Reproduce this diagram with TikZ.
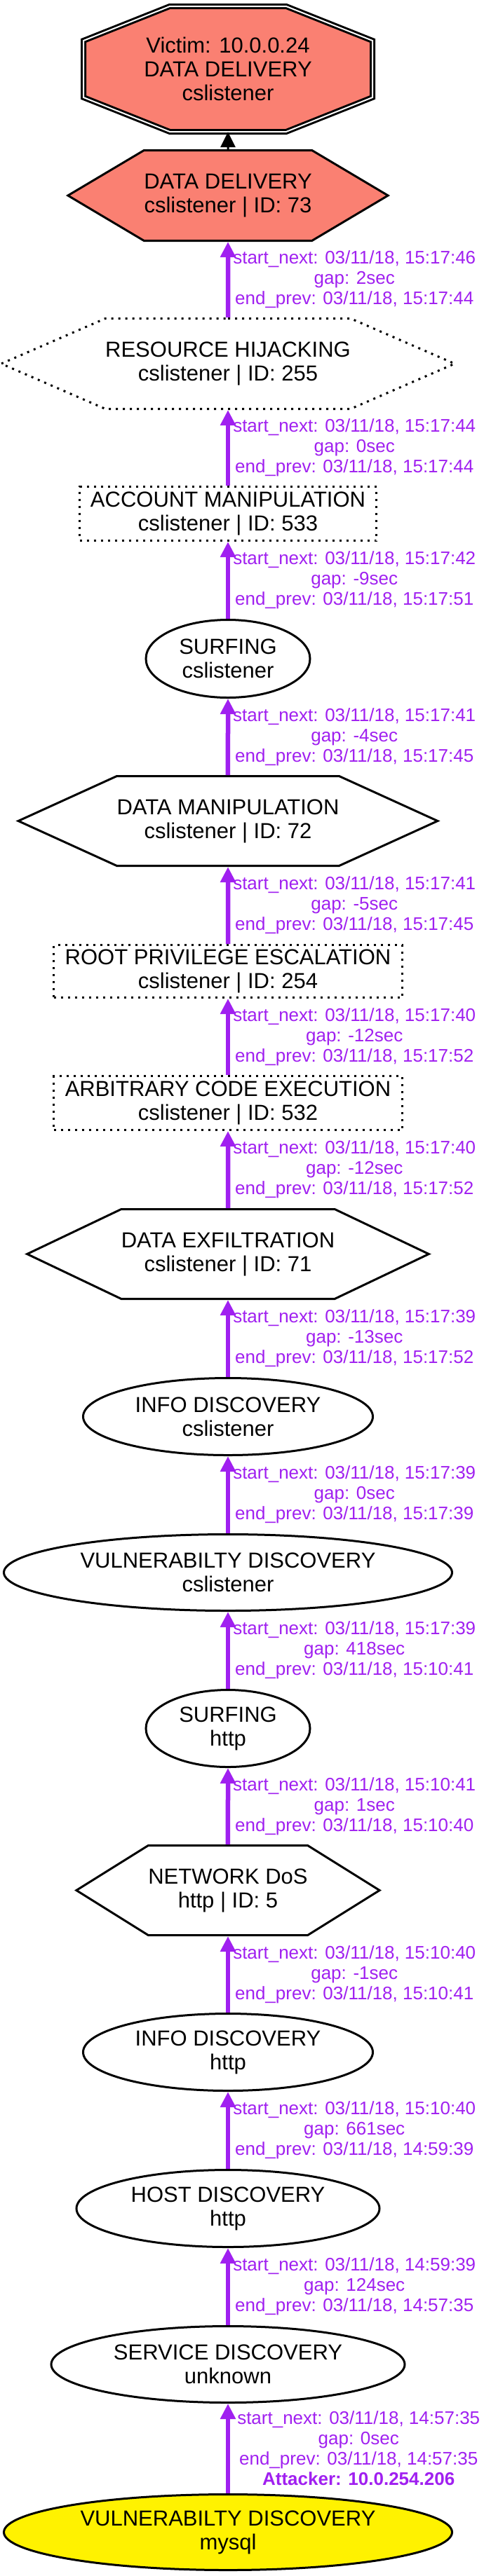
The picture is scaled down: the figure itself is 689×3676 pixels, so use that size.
\documentclass[tikz,border=0pt]{standalone}
\usepackage{fontspec}
\setmainfont{Liberation Sans}
\usepackage{tikz}
\usetikzlibrary{arrows.meta,shapes.geometric,shapes.symbols}

\definecolor{salmonred}{RGB}{250,128,114}
\definecolor{edgepurple}{RGB}{160,32,240}
\newcommand{\nodefont}{\fontsize{31pt}{34pt}\selectfont}
\newcommand{\edgefont}{\fontsize{26pt}{29pt}\selectfont}

\begin{document}
\begin{tikzpicture}[x=1pt,y=-1pt,
  every node/.style={align=center,inner sep=0pt,font=\nodefont},
  ell/.style={ellipse,draw=black,line width=3pt},
  hexa/.style={signal,signal to=west and east,draw=black,line width=3pt},
  dotbox/.style={rectangle,draw=black,line width=3pt,dash pattern=on 3pt off 7pt},
  flow/.style={draw=edgepurple,line width=6.5pt,-{Triangle[length=22pt,width=21pt]}},
  elabel/.style={font=\edgefont,text=edgepurple,anchor=west,xshift=4pt}]
\useasboundingbox (0,0) rectangle (689,3676);

% victim
\filldraw[fill=salmonred,draw=black,line width=3pt,double=white,double distance=2pt]
  (242,9) -- (408,9) -- (531,58) -- (531,139) -- (408,188) -- (242,188) -- (119,139) -- (119,58) -- cycle;
\node[minimum width=412pt,minimum height=179pt] (victim) at (325,98.5) {Victim: 10.0.0.24\\DATA DELIVERY\\cslistener};

% attack steps, top to bottom
\node[hexa,fill=salmonred,minimum width=440pt,minimum height=129pt,signal pointer angle=61.5] (dd) at (325,279) {DATA DELIVERY\\cslistener | ID: 73};
\node[hexa,dash pattern=on 3pt off 7pt,minimum width=617pt,minimum height=129pt,signal pointer angle=47] (rh) at (325,519) {RESOURCE HIJACKING\\cslistener | ID: 255};
\node[dotbox,minimum width=423pt,minimum height=77pt] (am) at (325,733) {ACCOUNT MANIPULATION\\cslistener | ID: 533};
\node[ell,minimum width=234pt,minimum height=111pt] (surfcs) at (325,940) {SURFING\\cslistener};
\node[hexa,minimum width=568pt,minimum height=128pt,signal pointer angle=49] (dm) at (325,1171.5) {DATA MANIPULATION\\cslistener | ID: 72};
\node[dotbox,minimum width=497pt,minimum height=75pt] (rpe) at (325,1386) {ROOT PRIVILEGE ESCALATION\\cslistener | ID: 254};
\node[dotbox,minimum width=497pt,minimum height=77pt] (ace) at (325,1574) {ARBITRARY CODE EXECUTION\\cslistener | ID: 532};
\node[hexa,minimum width=544pt,minimum height=128pt,signal pointer angle=51] (de) at (325,1789.5) {DATA EXFILTRATION\\cslistener | ID: 71};
\node[ell,minimum width=413pt,minimum height=110pt] (infocs) at (325,2021.5) {INFO DISCOVERY\\cslistener};
\node[ell,minimum width=639pt,minimum height=109pt] (vulncs) at (325,2244) {VULNERABILTY DISCOVERY\\cslistener};
\node[ell,minimum width=234pt,minimum height=110pt] (surfhttp) at (325,2466.5) {SURFING\\http};
\node[hexa,minimum width=415pt,minimum height=128pt,signal pointer angle=64] (dos) at (325,2697.5) {NETWORK DoS\\http | ID: 5};
\node[ell,minimum width=413pt,minimum height=110pt] (infohttp) at (325,2928.5) {INFO DISCOVERY\\http};
\node[ell,minimum width=432pt,minimum height=110pt] (host) at (325,3151.5) {HOST DISCOVERY\\http};
\node[ell,minimum width=504pt,minimum height=109pt] (serv) at (325,3374) {SERVICE DISCOVERY\\unknown};
\node[ell,fill=yellow,minimum width=639pt,minimum height=108pt] (vulnmy) at (325,3613.5) {VULNERABILTY DISCOVERY\\mysql};

% edges
\draw[draw=black,line width=3pt,-{Triangle[length=22pt,width=21pt]}] (dd) -- (victim);
\draw[flow] (rh) -- (dd) node[elabel,midway] {start\_next: 03/11/18, 15:17:46\\gap: 2sec\\end\_prev: 03/11/18, 15:17:44};
\draw[flow] (am) -- (rh) node[elabel,midway] {start\_next: 03/11/18, 15:17:44\\gap: 0sec\\end\_prev: 03/11/18, 15:17:44};
\draw[flow] (surfcs) -- (am) node[elabel,midway] {start\_next: 03/11/18, 15:17:42\\gap: -9sec\\end\_prev: 03/11/18, 15:17:51};
\draw[flow] (dm) -- (surfcs) node[elabel,midway] {start\_next: 03/11/18, 15:17:41\\gap: -4sec\\end\_prev: 03/11/18, 15:17:45};
\draw[flow] (rpe) -- (dm) node[elabel,midway] {start\_next: 03/11/18, 15:17:41\\gap: -5sec\\end\_prev: 03/11/18, 15:17:45};
\draw[flow] (ace) -- (rpe) node[elabel,midway] {start\_next: 03/11/18, 15:17:40\\gap: -12sec\\end\_prev: 03/11/18, 15:17:52};
\draw[flow] (de) -- (ace) node[elabel,midway] {start\_next: 03/11/18, 15:17:40\\gap: -12sec\\end\_prev: 03/11/18, 15:17:52};
\draw[flow] (infocs) -- (de) node[elabel,midway] {start\_next: 03/11/18, 15:17:39\\gap: -13sec\\end\_prev: 03/11/18, 15:17:52};
\draw[flow] (vulncs) -- (infocs) node[elabel,midway] {start\_next: 03/11/18, 15:17:39\\gap: 0sec\\end\_prev: 03/11/18, 15:17:39};
\draw[flow] (surfhttp) -- (vulncs) node[elabel,midway] {start\_next: 03/11/18, 15:17:39\\gap: 418sec\\end\_prev: 03/11/18, 15:10:41};
\draw[flow] (dos) -- (surfhttp) node[elabel,midway] {start\_next: 03/11/18, 15:10:41\\gap: 1sec\\end\_prev: 03/11/18, 15:10:40};
\draw[flow] (infohttp) -- (dos) node[elabel,midway] {start\_next: 03/11/18, 15:10:40\\gap: -1sec\\end\_prev: 03/11/18, 15:10:41};
\draw[flow] (host) -- (infohttp) node[elabel,midway] {start\_next: 03/11/18, 15:10:40\\gap: 661sec\\end\_prev: 03/11/18, 14:59:39};
\draw[flow] (serv) -- (host) node[elabel,midway] {start\_next: 03/11/18, 14:59:39\\gap: 124sec\\end\_prev: 03/11/18, 14:57:35};
\draw[flow] (vulnmy) -- (serv) node[elabel,midway,xshift=6pt] {start\_next: 03/11/18, 14:57:35\\gap: 0sec\\end\_prev: 03/11/18, 14:57:35\\\textbf{Attacker: 10.0.254.206}};
\end{tikzpicture}
\end{document}
